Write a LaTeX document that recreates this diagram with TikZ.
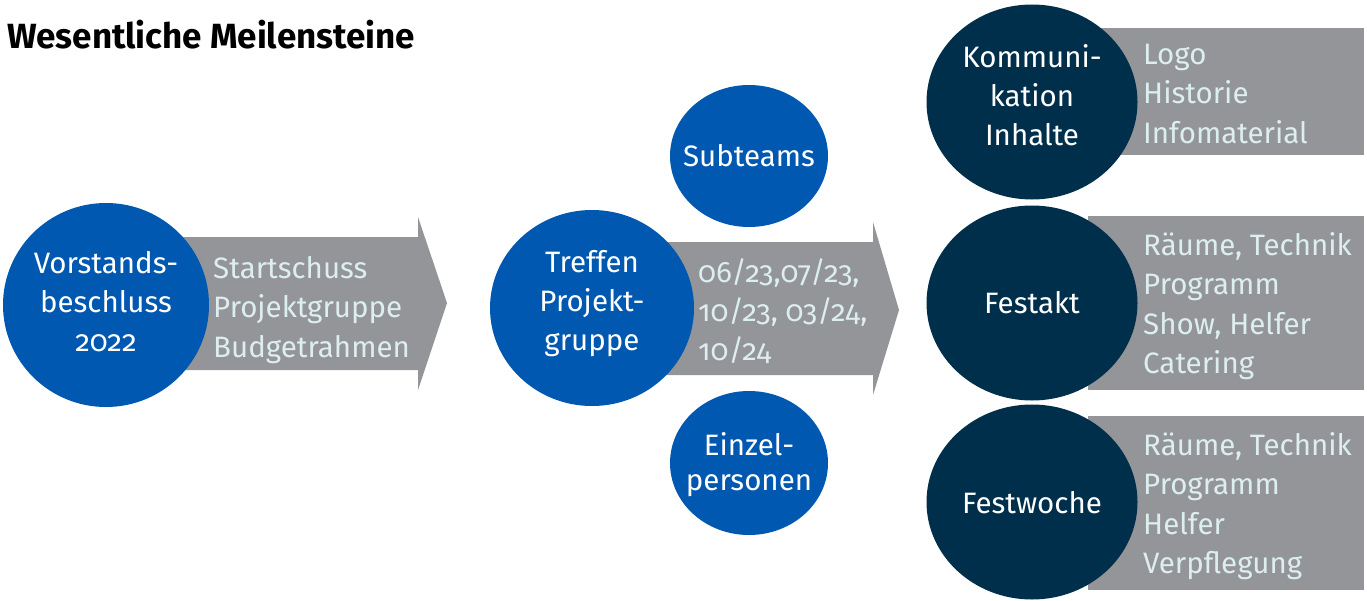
\documentclass[tikz,border=0pt]{standalone}
\usepackage{fontspec}
\usetikzlibrary{shapes.geometric}
\setmainfont{Fira Sans}[Numbers=OldStyle]
\definecolor{mblue}{HTML}{0058B0}
\definecolor{mdark}{HTML}{002F4B}
\definecolor{mgray}{HTML}{939598}
\definecolor{mtext}{HTML}{DDEEF0}
\begin{document}
\begin{tikzpicture}[x=1pt,y=-1pt,
  blob/.style={ellipse,inner sep=0pt,draw=none},
  bluec/.style={blob,fill=mblue},
  darkc/.style={blob,fill=mdark},
  ctext/.style={text=white,inner sep=0pt,align=center,font=\fontsize{29.5}{39}\selectfont},
  graytext/.style={text=mtext,align=left,anchor=west,inner sep=0pt,font=\fontsize{29.5}{39.3}\selectfont},
  grayshape/.style={fill=mgray}]
\useasboundingbox (0,0) rectangle (1367,600);
% title
\node[anchor=base west,inner sep=0pt,font=\fontsize{35}{40}\selectfont\bfseries] (title) at (7,48) {Wesentliche Meilensteine};
% arrows and boxes
\fill[grayshape] (150,237) -- (418,237) -- (418,217) -- (447,303) -- (418,390) -- (418,370) -- (150,370) -- cycle;
\fill[grayshape] (620,242) -- (873,242) -- (873,222) -- (899,310) -- (873,395) -- (873,375) -- (620,375) -- cycle;
\fill[grayshape] (1100,28) rectangle (1364,155);
\fill[grayshape] (1088,216) rectangle (1364,390);
\fill[grayshape] (1088,416) rectangle (1364,590);
% circles
\node[bluec,minimum width=206pt,minimum height=204pt] (vor) at (106,305) {};
\node[bluec,minimum width=204pt,minimum height=196pt] (tref) at (592,308) {};
\node[bluec,minimum width=158pt,minimum height=142pt] (sub) at (749,156) {};
\node[bluec,minimum width=158pt,minimum height=144pt] (einz) at (749,463) {};
\node[darkc,minimum width=211pt,minimum height=195pt] (komm) at (1032,102) {};
\node[darkc,minimum width=211pt,minimum height=195pt] (fest) at (1032,303) {};
\node[darkc,minimum width=211pt,minimum height=195pt] (woche) at (1032,502) {};
% circle texts
\node[ctext] (vorT) at (106,302) {Vorstands-\\beschluss\\2022};
\node[ctext] (trefT) at (592,304) {Treffen\\Projekt-\\gruppe};
\node[ctext] (subT) at (749,156) {Subteams};
\node[ctext,font=\fontsize{29.5}{35}\selectfont] (einzT) at (749,465) {Einzel-\\personen};
\node[ctext] (kommT) at (1032,95) {Kommuni-\\kation\\Inhalte};
\node[ctext] (festT) at (1032,303) {Festakt};
\node[ctext] (wocheT) at (1032,503) {Festwoche};
% texts
\node[graytext] (t1) at (213,310) {Startschuss\\Projektgruppe\\Budgetrahmen};
\node[graytext] (t2) at (698,311) {06/23,07/23,\\10/23, 03/24,\\10/24};
\node[graytext] (t3) at (1143,94) {Logo\\Historie\\Infomaterial};
\node[graytext] (t4) at (1143,306) {Räume, Technik\\Programm\\Show, Helfer\\Catering};
\node[graytext] (t5) at (1143,506) {Räume, Technik\\Programm\\Helfer\\Verpflegung};
\end{tikzpicture}
\end{document}
